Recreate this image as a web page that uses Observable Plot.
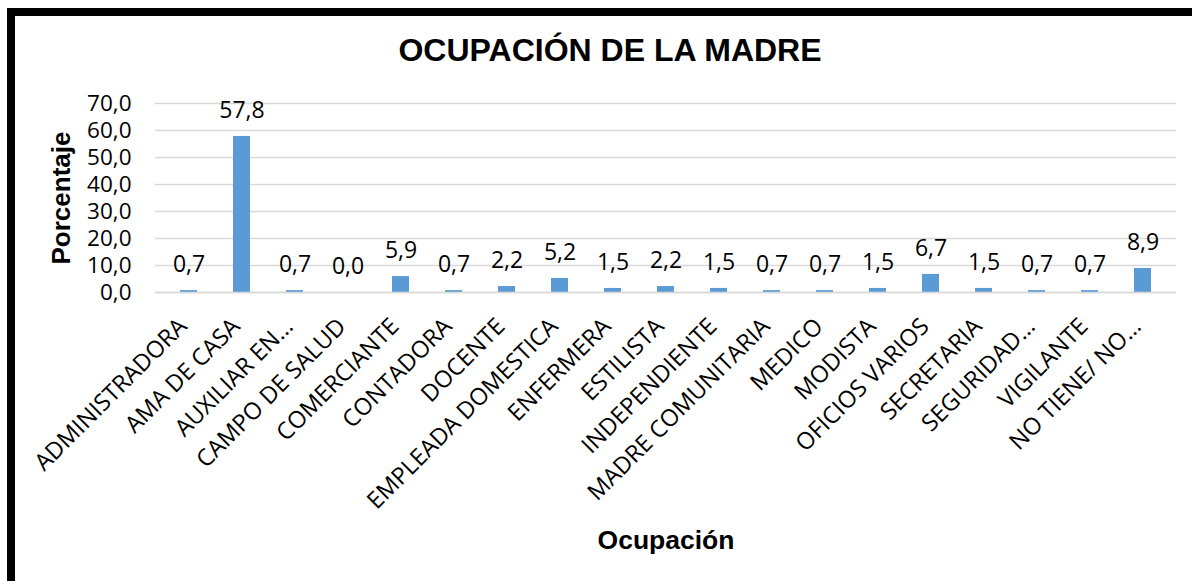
<!DOCTYPE html>
<html>
<head>
<meta charset="utf-8">
<script src="https://cdn.jsdelivr.net/npm/d3@7"></script>
<script src="https://cdn.jsdelivr.net/npm/@observablehq/plot@0.6"></script>
<style>
  html, body { margin: 0; padding: 0; background: #fff; }
  #wrap { position: relative; width: 1192px; height: 581px; overflow: hidden; }
  #chart svg { display: block; }
  .bt { position: absolute; left: 7px; top: 8px; width: 1185px; height: 8px; background: #000; }
  .bl { position: absolute; left: 7px; top: 8px; width: 8px; height: 573px; background: #000; }
</style>
</head>
<body>
<div id="wrap">
  <div id="chart"></div>
  <div class="bt"></div>
  <div class="bl"></div>
</div>
<script>
const categories = ["ADMINISTRADORA","AMA DE CASA","AUXILIAR EN…","CAMPO DE SALUD","COMERCIANTE","CONTADORA","DOCENTE","EMPLEADA DOMESTICA","ENFERMERA","ESTILISTA","INDEPENDIENTE","MADRE COMUNITARIA","MEDICO","MODISTA","OFICIOS VARIOS","SECRETARIA","SEGURIDAD…","VIGILANTE","NO TIENE/ NO…"];
const values = [0.7,57.8,0.7,0.0,5.9,0.7,2.2,5.2,1.5,2.2,1.5,0.7,0.7,1.5,6.7,1.5,0.7,0.7,8.9];
const yTicks = [0,10,20,30,40,50,60,70];
const title = "OCUPACIÓN DE LA MADRE";
const yLabel = "Porcentaje";
const xLabel = "Ocupación";

const data = categories.map((c, i) => ({cat: c, val: values[i]}));
const fmt = d => d.toFixed(1).replace(".", ",");

const chart = Plot.plot({
  width: 1192,
  height: 581,
  marginTop: 103,
  marginBottom: 289,
  marginLeft: 155,
  marginRight: 16,
  style: {fontFamily: "Open Sans", fontSize: "23px", color: "#000", background: "transparent"},
  x: {domain: categories, paddingInner: 0.68, paddingOuter: 0.34, label: null},
  y: {domain: [0, 70], label: null},
  marks: [
    Plot.gridY(yTicks, {stroke: "#d9d9d9", strokeOpacity: 1, strokeWidth: 1.5}),
    Plot.barY(data, {x: "cat", y: "val", fill: "#5b9bd5"}),
    Plot.ruleY([0], {stroke: "#d9d9d9", strokeWidth: 1.5}),
    Plot.axisY({ticks: yTicks, tickFormat: fmt, tickSize: 0, tickPadding: 24, fontSize: 22.5, label: null}),
    Plot.axisX({tickRotate: -45, tickSize: 0, tickPadding: 30, dx: -6, fontSize: 23.5, label: null}),
    Plot.text(data, {x: "cat", y: "val", text: d => fmt(d.val), dy: -26, lineAnchor: "middle", fontSize: 23, fill: "#000"}),
    Plot.text([title], {text: d => d, frameAnchor: "top", dy: -53, dx: -56, lineAnchor: "middle", fontSize: 32, fontWeight: "bold", fontFamily: "Liberation Sans", fill: "#000"}),
    Plot.text([yLabel], {text: d => d, frameAnchor: "left", dx: -94, dy: 0, rotate: -90, lineAnchor: "middle", textAnchor: "middle", fontSize: 26, fontWeight: "bold", fontFamily: "Liberation Sans", fill: "#000"}),
    Plot.text([xLabel], {text: d => d, frameAnchor: "bottom", dy: 248, lineAnchor: "middle", fontSize: 26.5, fontWeight: "bold", fontFamily: "Liberation Sans", fill: "#000"})
  ]
});
document.getElementById("chart").appendChild(chart);
</script>
</body>
</html>
